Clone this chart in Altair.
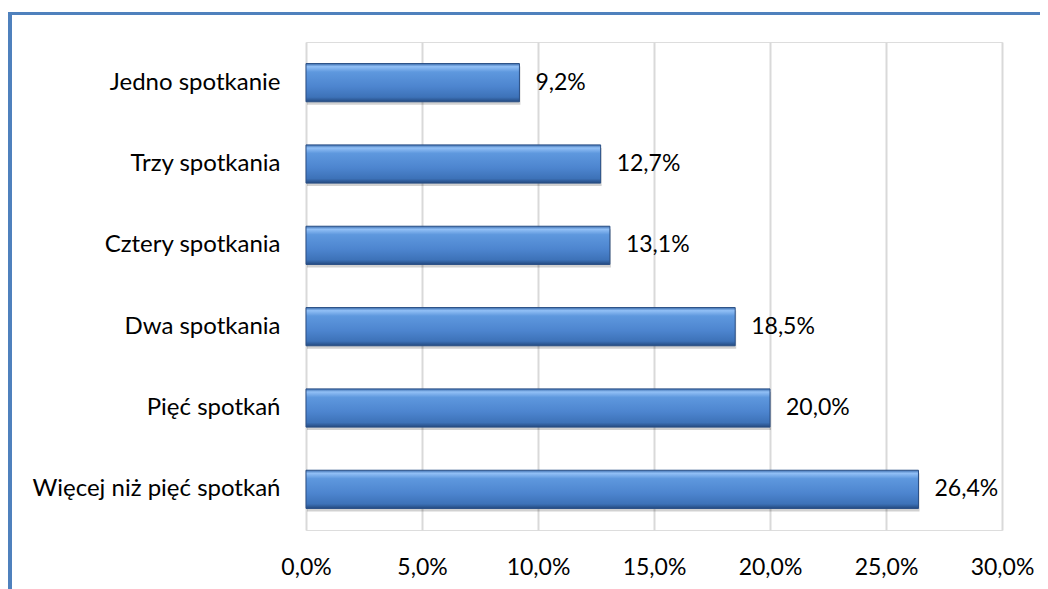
import altair as alt
import pandas as pd

categories = ["Jedno spotkanie", "Trzy spotkania", "Cztery spotkania",
              "Dwa spotkania", "Pięć spotkań", "Więcej niż pięć spotkań"]
values = [9.2, 12.7, 13.1, 18.5, 20.0, 26.4]
x_ticks = [0, 5, 10, 15, 20, 25, 30]

df = pd.DataFrame({"cat": categories, "val": values})

FONT = "Lato"
FS = 23
W, H = 696, 488

ysc = alt.Scale(domain=categories, paddingInner=0.53, paddingOuter=0.265)
xsc = alt.Scale(domain=[0, 30], nice=False)

x_axis = alt.Axis(values=x_ticks, grid=True, gridColor="#d9d9d9", gridWidth=2,
                  domain=False, ticks=False, title=None,
                  labelExpr="replace(format(datum.value, '.1f'), '.', ',') + '%'",
                  labelFont=FONT, labelFontSize=FS, labelColor="#000000",
                  labelPadding=26, labelFlush=False, labelOverlap=False)
y_axis = alt.Axis(domain=False, ticks=False, title=None, labelFont=FONT,
                  labelFontSize=24, labelColor="#000000", labelPadding=26,
                  labelLimit=400)

X = alt.X("val:Q", scale=xsc, axis=x_axis)
Y = alt.Y("cat:N", scale=ysc, sort=categories, axis=y_axis)

base = alt.Chart(df)

shadow = base.mark_bar(color="#000000", opacity=0.18, xOffset=1, yOffset=3).encode(x=X, y=Y)

grad = alt.Gradient(
    gradient="linear", x1=0, x2=0, y1=0, y2=1,
    stops=[
        alt.GradientStop(offset=0.0, color="#3a6cae"),
        alt.GradientStop(offset=0.08, color="#92c0f6"),
        alt.GradientStop(offset=0.22, color="#5e98de"),
        alt.GradientStop(offset=0.6, color="#4d85cf"),
        alt.GradientStop(offset=0.88, color="#3d72b8"),
        alt.GradientStop(offset=1.0, color="#244a80"),
    ],
)

bars = base.mark_bar(color=grad, stroke="#2a4f85", strokeWidth=1).encode(x=X, y=Y)

text = base.transform_calculate(
    lab="replace(format(datum.val, '.1f'), '.', ',') + '%'"
).mark_text(align="left", baseline="middle", dx=16, font=FONT, fontSize=FS,
            color="#000000").encode(x=X, y=Y, text="lab:N")

border_top = alt.Chart(df).mark_rule(color="#4f81bd", strokeWidth=3).encode(
    x=alt.value(-298), x2=alt.value(760), y=alt.value(-28.5)
)
border_left = alt.Chart(df).mark_rule(color="#4f81bd", strokeWidth=4).encode(
    x=alt.value(-296), y=alt.value(-30), y2=alt.value(560)
)

chart = alt.layer(shadow, bars, text, border_top, border_left).properties(
    width=W, height=H,
    autosize=alt.AutoSizeParams(type="none"),
    padding={"left": 298, "top": 34, "right": 38, "bottom": 59},
).configure_view(stroke="transparent", strokeWidth=0).configure(background="#ffffff")

chart.save("out.html", embed_options={"renderer": "svg", "actions": False})
